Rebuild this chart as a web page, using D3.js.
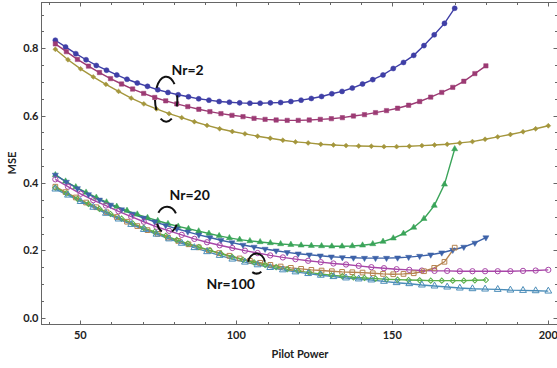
<!DOCTYPE html>
<html><head><meta charset="utf-8">
<script src="https://cdn.jsdelivr.net/npm/d3@7"></script>
<style>body{margin:0;background:#fff}svg{display:block}</style>
</head><body>
<svg id="c" width="557" height="368"></svg>
<script>
// Pilot power sample grids (40 samples each)
const pp170 = [42,45.28,48.56,51.85,55.13,58.41,61.69,64.97,68.26,71.54,74.82,78.10,81.38,84.67,87.95,91.23,94.51,97.79,101.08,104.36,107.64,110.92,114.21,117.49,120.77,124.05,127.33,130.62,133.90,137.18,140.46,143.74,147.03,150.31,153.59,156.87,160.15,163.44,166.72,170];
const pp180 = [42,45.54,49.08,52.62,56.15,59.69,63.23,66.77,70.31,73.85,77.38,80.92,84.46,88.00,91.54,95.08,98.62,102.15,105.69,109.23,112.77,116.31,119.85,123.38,126.92,130.46,134.00,137.54,141.08,144.62,148.15,151.69,155.23,158.77,162.31,165.85,169.38,172.92,176.46,180];
const pp200 = [42,46.05,50.10,54.15,58.21,62.26,66.31,70.36,74.41,78.46,82.51,86.56,90.62,94.67,98.72,102.77,106.82,110.87,114.92,118.97,123.03,127.08,131.13,135.18,139.23,143.28,147.33,151.38,155.44,159.49,163.54,167.59,171.64,175.69,179.74,183.79,187.85,191.90,195.95,200];

// Nr = 2
const nr2A = [0.824,0.804,0.784,0.766,0.749,0.735,0.721,0.708,0.697,0.687,0.677,0.669,0.662,0.656,0.650,0.646,0.642,0.640,0.638,0.637,0.637,0.638,0.639,0.642,0.646,0.651,0.657,0.665,0.672,0.682,0.694,0.707,0.721,0.740,0.758,0.779,0.808,0.840,0.874,0.919];
const nr2B = [0.813,0.790,0.767,0.747,0.728,0.710,0.694,0.679,0.666,0.654,0.644,0.635,0.627,0.619,0.612,0.606,0.601,0.597,0.592,0.589,0.587,0.586,0.586,0.587,0.589,0.591,0.594,0.599,0.603,0.609,0.615,0.622,0.631,0.642,0.655,0.669,0.684,0.702,0.725,0.748];
const nr2C = [0.797,0.766,0.739,0.715,0.693,0.672,0.652,0.635,0.620,0.606,0.594,0.582,0.571,0.561,0.553,0.546,0.539,0.533,0.527,0.522,0.519,0.515,0.513,0.511,0.510,0.509,0.508,0.508,0.509,0.511,0.513,0.515,0.519,0.523,0.530,0.537,0.544,0.552,0.561,0.570];
// Nr = 20
const nr20A = [0.424,0.405,0.388,0.372,0.357,0.343,0.330,0.318,0.307,0.297,0.288,0.279,0.271,0.264,0.257,0.250,0.243,0.237,0.232,0.228,0.225,0.222,0.219,0.217,0.215,0.214,0.213,0.212,0.212,0.213,0.215,0.219,0.226,0.236,0.250,0.268,0.294,0.333,0.396,0.501];
const nr20B = [0.424,0.403,0.384,0.366,0.350,0.335,0.321,0.308,0.296,0.285,0.274,0.264,0.255,0.246,0.238,0.230,0.223,0.216,0.210,0.204,0.199,0.194,0.190,0.187,0.184,0.181,0.179,0.178,0.177,0.177,0.177,0.178,0.180,0.183,0.187,0.193,0.201,0.210,0.222,0.238];
const nr20C = [0.411,0.389,0.368,0.349,0.333,0.316,0.300,0.285,0.270,0.258,0.246,0.234,0.224,0.215,0.207,0.199,0.192,0.185,0.179,0.174,0.169,0.165,0.161,0.158,0.154,0.150,0.147,0.144,0.142,0.140,0.139,0.139,0.138,0.138,0.138,0.138,0.138,0.139,0.140,0.142];
// Nr = 100
const nr100A = [0.389,0.373,0.357,0.342,0.328,0.313,0.299,0.285,0.272,0.260,0.249,0.238,0.228,0.218,0.209,0.200,0.192,0.184,0.176,0.169,0.163,0.157,0.152,0.148,0.145,0.142,0.140,0.138,0.136,0.135,0.134,0.132,0.130,0.129,0.130,0.132,0.138,0.148,0.166,0.208];
const nr100B = [0.386,0.369,0.353,0.338,0.323,0.308,0.294,0.280,0.267,0.255,0.243,0.231,0.220,0.210,0.200,0.190,0.181,0.172,0.164,0.157,0.150,0.144,0.139,0.134,0.130,0.126,0.123,0.120,0.118,0.116,0.114,0.113,0.112,0.111,0.110,0.110,0.110,0.110,0.111,0.112];
const nr100C = [0.382,0.364,0.345,0.328,0.310,0.293,0.277,0.262,0.248,0.234,0.221,0.208,0.196,0.185,0.174,0.165,0.157,0.149,0.142,0.136,0.131,0.126,0.122,0.118,0.115,0.112,0.108,0.104,0.101,0.097,0.094,0.091,0.088,0.086,0.085,0.084,0.082,0.081,0.080,0.079];

const xMajor = [50,100,150,200];
const xMinor = [40,60,70,80,90,110,120,130,140,160,170,180,190];
const yMajor = [0,0.2,0.4,0.6,0.8];
const yMinor = [0.05,0.1,0.15,0.25,0.3,0.35,0.45,0.5,0.55,0.65,0.7,0.75,0.85,0.9];
const groupLabels = ["Nr=2","Nr=20","Nr=100"];

const series = [
  {x:pp170, y:nr2A, color:"#3f3fa6", shape:"circle", fill:true},
  {x:pp180, y:nr2B, color:"#9c3b74", shape:"square", fill:true},
  {x:pp200, y:nr2C, color:"#a4963c", shape:"diamond", fill:true},
  {x:pp170, y:nr20A, color:"#3aa459", shape:"up", fill:true},
  {x:pp180, y:nr20B, color:"#3d62a8", shape:"down", fill:true},
  {x:pp200, y:nr20C, color:"#a846a8", shape:"circle", fill:false},
  {x:pp170, y:nr100A, color:"#b5834f", shape:"square", fill:false},
  {x:pp180, y:nr100B, color:"#5aaf4a", shape:"diamond", fill:false},
  {x:pp200, y:nr100C, color:"#4a8cb8", shape:"up", fill:false}
];

const svg = d3.select("#c");
const L=41.5, R=557.5, T=2.5, B=324.5;
const x = d3.scaleLinear().domain([50,200]).range([80.3,548.3]);
const y = d3.scaleLinear().domain([0,0.8]).range([317.7,48.3]);

svg.append("defs").append("clipPath").attr("id","clip")
  .append("rect").attr("x",L).attr("y",T).attr("width",R-L).attr("height",B-T);

const plot = svg.append("g").attr("clip-path","url(#clip)");
const line = d3.line().x(d=>x(d[0])).y(d=>y(d[1]));

const symType = {circle:d3.symbolCircle, square:d3.symbolSquare, diamond:d3.symbolSquare, up:d3.symbolTriangle, down:d3.symbolTriangle};
const symRot = {circle:0, square:0, diamond:45, up:0, down:180};
const symSizeFilled = {circle:20, square:19, diamond:12, up:16, down:16};
const symSizeOpen = {circle:22, square:22, diamond:14, up:20, down:20};

series.forEach(s=>{
  const pts = s.x.map((v,i)=>[v,s.y[i]]);
  plot.append("path").attr("d",line(pts)).attr("fill","none")
    .attr("stroke",s.color).attr("stroke-width",1.4);
});
series.forEach(s=>{
  const pts = s.x.map((v,i)=>[v,s.y[i]]);
  const sym = d3.symbol().type(symType[s.shape]).size(s.fill?symSizeFilled[s.shape]:symSizeOpen[s.shape]);
  plot.selectAll(null).data(pts).enter().append("path")
    .attr("d",sym)
    .attr("transform",d=>`translate(${x(d[0])},${y(d[1])}) rotate(${symRot[s.shape]})`)
    .attr("fill",s.fill?s.color:"none")
    .attr("stroke",s.color).attr("stroke-width",s.fill?0.5:1);
});

// frame
const frame = svg.append("g").attr("stroke","#666").attr("stroke-width",1);
frame.append("rect").attr("x",L).attr("y",T).attr("width",R-L).attr("height",B-T).attr("fill","none");
const tk = svg.append("g").attr("stroke","#666").attr("stroke-width",1);
function xt(v,len){
  tk.append("line").attr("x1",Math.round(x(v))+0.5).attr("x2",Math.round(x(v))+0.5).attr("y1",B).attr("y2",B-len);
  tk.append("line").attr("x1",Math.round(x(v))+0.5).attr("x2",Math.round(x(v))+0.5).attr("y1",T).attr("y2",T+len);
}
function yt(v,len){
  tk.append("line").attr("y1",Math.round(y(v))+0.5).attr("y2",Math.round(y(v))+0.5).attr("x1",L).attr("x2",L+len);
  tk.append("line").attr("y1",Math.round(y(v))+0.5).attr("y2",Math.round(y(v))+0.5).attr("x1",R).attr("x2",R-len);
}
xMajor.forEach(v=>xt(v,4)); xMinor.forEach(v=>xt(v,2.5));
yMajor.forEach(v=>yt(v,4)); yMinor.forEach(v=>yt(v,2.5));

const font = "Lato, 'Open Sans', sans-serif";
svg.append("g").selectAll("text").data(xMajor).enter().append("text")
  .attr("x",d=>x(d)).attr("y",339).attr("text-anchor","middle")
  .attr("font-family",font).attr("font-weight","bold").attr("font-size",11).attr("fill","#222")
  .text(d=>d);
svg.append("g").selectAll("text").data(yMajor).enter().append("text")
  .attr("x",38.5).attr("y",d=>y(d)+4).attr("text-anchor","end")
  .attr("font-family",font).attr("font-weight","bold").attr("font-size",11).attr("fill","#222")
  .text(d=>d.toFixed(1));

svg.append("text").attr("x",300).attr("y",358).attr("text-anchor","middle")
  .attr("font-family",font).attr("font-weight","bold").attr("font-size",11).attr("fill","#222").text("Pilot Power");
svg.append("text").attr("transform","translate(16,163) rotate(-90)").attr("text-anchor","middle")
  .attr("font-family",font).attr("font-weight","bold").attr("font-size",11).attr("fill","#222").text("MSE");

// annotations
const ann = svg.append("g");
const labelPos = [[171.5,75],[169.5,200],[206.5,288.5]];
groupLabels.forEach((t,i)=>{
  ann.append("text").attr("x",labelPos[i][0]).attr("y",labelPos[i][1])
    .attr("font-family",font).attr("font-weight","bold").attr("font-size",14).attr("fill","#111").text(t);
});
function arcPiece(cx,cy,rx,ry,a0,a1){
  const r=Math.PI/180;
  const p0=[cx+rx*Math.cos(a0*r), cy+ry*Math.sin(a0*r)];
  const p1=[cx+rx*Math.cos(a1*r), cy+ry*Math.sin(a1*r)];
  const large = (a1-a0)>180?1:0;
  return `M${p0[0]},${p0[1]}A${rx},${ry} 0 ${large} 1 ${p1[0]},${p1[1]}`;
}
const ellipses = [
  {cx:166.2, cy:99.2, rx:11.2, ry:22.5, pieces:[[-10,19],[60,120],[151,178],[210,318]]},
  {cx:167, cy:220, rx:10.3, ry:13.3, pieces:[[20,60],[120,165],[213,330]]},
  {cx:256.5, cy:263.5, rx:8.5, ry:10, pieces:[[55,120],[190,350]]}
];
ellipses.forEach(e=>{
  e.pieces.forEach(p=>{
    ann.append("path").attr("d",arcPiece(e.cx,e.cy,e.rx,e.ry,p[0],p[1]))
      .attr("fill","none").attr("stroke","#111").attr("stroke-width",2);
  });
});
</script>
</body></html>
